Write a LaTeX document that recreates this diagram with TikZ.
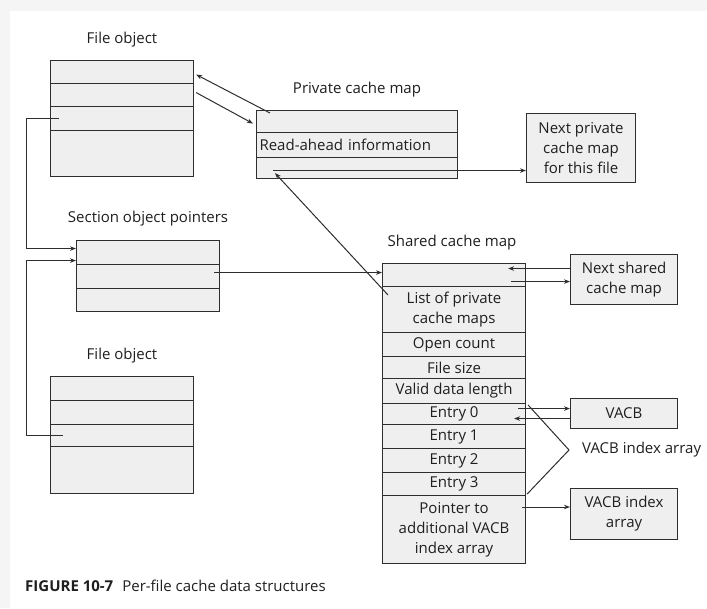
\documentclass[tikz,border=0pt]{standalone}
\usepackage{fontspec}
\setmainfont{Open Sans}
\usetikzlibrary{arrows.meta,calc}
\definecolor{boxgray}{HTML}{EFEFEF}
\definecolor{linegray}{HTML}{2E2E2E}
\definecolor{bggray}{HTML}{F5F5F5}
\begin{document}
\begin{tikzpicture}[x=1pt,y=-1pt,
  font=\fontsize{15}{20}\selectfont,
  row/.style={draw=linegray, fill=boxgray, line width=1.1pt, inner sep=0pt, anchor=north west, align=center, text=black!88},
  lbl/.style={text=black!88, inner sep=0pt},
  conn/.style={draw=linegray, line width=1pt},
  arr/.style={conn, -{Stealth[length=6pt,width=4.5pt]}}
]
\path[use as bounding box] (0,0) rectangle (707,608);
\fill[bggray] (0,0) rectangle (707,608);
\fill[white] (10,11) rectangle (707,608);

% File object 1
\node[lbl] (f1lbl) at (122,40) {File object};
\node[row, minimum width=143pt, minimum height=23pt] (f1a) at (50,60) {};
\node[row, minimum width=143pt, minimum height=23pt] (f1b) at (50,83) {};
\node[row, minimum width=143pt, minimum height=24pt] (f1c) at (50,106) {};
\node[row, minimum width=143pt, minimum height=46pt] (f1d) at (50,130) {};

% Private cache map
\node[lbl] (plbl) at (357,90) {Private cache map};
\node[row, minimum width=201pt, minimum height=22pt] (p1) at (256,110) {};
\node[row, minimum width=201pt, minimum height=25pt, text width=195pt, align=left, inner xsep=3pt] (p2) at (256,132) {Read-ahead information};
\node[row, minimum width=201pt, minimum height=21pt] (p3) at (256,157) {};
\node[row, minimum width=109pt, minimum height=69pt] (np) at (526,113) {Next private\\cache map\\for this file};

% Section object pointers
\node[lbl] (slbl) at (148,219) {Section object pointers};
\node[row, minimum width=143pt, minimum height=24pt] (s1) at (76,240) {};
\node[row, minimum width=143pt, minimum height=24pt] (s2) at (76,264) {};
\node[row, minimum width=143pt, minimum height=23pt] (s3) at (76,288) {};

% Shared cache map
\node[lbl] (shlbl) at (452,243) {Shared cache map};
\node[row, minimum width=143pt, minimum height=23pt] (sh0) at (382,263) {};
\node[row, minimum width=143pt, minimum height=46pt] (sh1) at (382,286) {List of private\\cache maps};
\node[row, minimum width=143pt, minimum height=24pt] (sh2) at (382,332) {Open count};
\node[row, minimum width=143pt, minimum height=22pt] (sh3) at (382,356) {File size};
\node[row, minimum width=143pt, minimum height=25pt] (sh4) at (382,378) {Valid data length};
\node[row, minimum width=143pt, minimum height=21pt] (sh5) at (382,403) {Entry 0};
\node[row, minimum width=143pt, minimum height=24pt] (sh6) at (382,424) {Entry 1};
\node[row, minimum width=143pt, minimum height=24pt] (sh7) at (382,448) {Entry 2};
\node[row, minimum width=143pt, minimum height=23pt] (sh8) at (382,472) {Entry 3};
\node[row, minimum width=143pt, minimum height=68pt] (sh9) at (382,495) {Pointer to\\additional VACB\\index array};

% Right-hand boxes
\node[row, minimum width=107pt, minimum height=50pt] (ns) at (570,254) {Next shared\\cache map};
\node[row, minimum width=107pt, minimum height=30pt] (vacb) at (570,398) {VACB};
\node[row, minimum width=107pt, minimum height=51pt] (via) at (570,488) {VACB index\\array};
\node[lbl, anchor=west] (vlbl) at (582,450) {VACB index array};

% File object 2
\node[lbl] (f2lbl) at (122,356) {File object};
\node[row, minimum width=143pt, minimum height=24pt] (g1) at (50,376) {};
\node[row, minimum width=143pt, minimum height=24pt] (g2) at (50,400) {};
\node[row, minimum width=143pt, minimum height=22pt] (g3) at (50,424) {};
\node[row, minimum width=143pt, minimum height=47pt] (g4) at (50,446) {};

% Caption
\node[lbl, anchor=west] (cap) at (25,586) {\textbf{FIGURE 10-7}\hspace{0.6em}Per-file cache data structures};

% Connectors
\draw[arr] ([xshift=9pt]f1c.west) -- ([xshift=-24pt]f1c.west) |- ([yshift=4pt]s1.west);
\draw[arr] ([xshift=13pt]g3.west) -- ([xshift=-24pt]g3.west) |- ([yshift=-8pt]s1.west);

\draw[arr] ([xshift=14pt,yshift=-3pt]p1.north west) -- ([xshift=2pt,yshift=-2.5pt]f1a.east);
\draw[arr] ([xshift=2pt,yshift=2.5pt]f1b.east) -- ([xshift=-3pt,yshift=-2pt]p1.west);

\coordinate (pstart) at ([xshift=17pt,yshift=-2.5pt]p3.west);
\draw[arr] (pstart) -- (pstart -| np.west);

\draw[arr] ([xshift=6pt,yshift=-9pt]sh1.north west) -- ([xshift=19pt,yshift=6pt]p3.south west);

\coordinate (sstart) at ([xshift=-6pt,yshift=4pt]s2.east);
\draw[arr] (sstart) -- (sstart -| sh0.west);

\draw[arr] ([yshift=11pt]ns.west) -- ([xshift=-18pt,yshift=6.5pt]sh0.east);
\coordinate (nsstart) at ([xshift=-15pt,yshift=-6.5pt]sh0.east);
\draw[arr] (nsstart) -- (nsstart -| ns.west);

\coordinate (vstart) at ([xshift=-8pt,yshift=5.5pt]sh5.east);
\draw[arr] (vstart) -- (vstart -| vacb.west);
\draw[arr] ([yshift=-5pt]vacb.west) -- ([xshift=-12pt,yshift=-4.5pt]sh5.east);

\coordinate (vtip) at (569,450);
\draw[conn] ([xshift=2pt,yshift=-2pt]sh5.north east) -- (vtip) -- ([xshift=1pt,yshift=2pt]sh8.south east);

\coordinate (viastart) at ([xshift=-4pt,yshift=-12pt]sh9.north east);
\draw[arr] (viastart) -- (viastart -| via.west);
\end{tikzpicture}
\end{document}
